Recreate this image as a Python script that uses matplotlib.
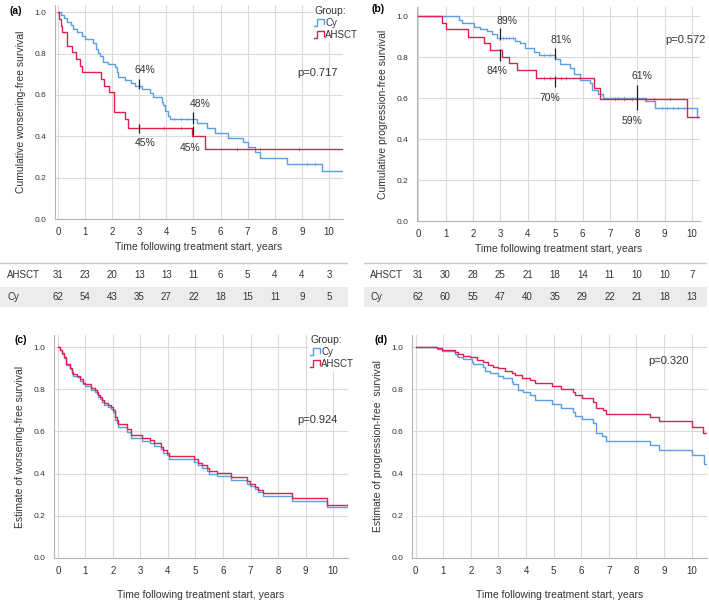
import numpy as np
import matplotlib
matplotlib.use('Agg')
import matplotlib.pyplot as plt
from matplotlib.lines import Line2D
from matplotlib.legend_handler import HandlerBase
from matplotlib.ticker import FormatStrFormatter

plt.rcParams['font.family'] = ['Liberation Sans', 'DejaVu Sans']

BLUE = '#5b9ee8'
RED = '#e0204f'
GRID = '#dadada'
TXT = '#333333'

# ---- (a) worsening-free survival, KM ----
a_cy_t = [0, 0.12, 0.22, 0.34, 0.47, 0.55, 0.71, 0.9, 0.99, 1.29, 1.42, 1.48, 1.54, 1.66, 1.85,
          2.09, 2.16, 2.22, 2.46, 2.71, 2.83, 3.09, 3.39, 3.52, 3.83, 3.89, 3.95, 4.07, 4.13,
          5.12, 5.49, 5.79, 6.29, 6.84, 7.02, 7.27, 7.45, 8.44, 9.73]
a_cy_s = [1.0, 0.987, 0.971, 0.952, 0.936, 0.919, 0.903, 0.887, 0.871, 0.85, 0.821, 0.802, 0.786, 0.76, 0.75,
          0.737, 0.713, 0.686, 0.673, 0.657, 0.644, 0.63, 0.609, 0.592, 0.568, 0.552, 0.52, 0.496, 0.485,
          0.464, 0.44, 0.418, 0.394, 0.37, 0.348, 0.322, 0.295, 0.267, 0.23]
a_ah_t = [0, 0.05, 0.1, 0.15, 0.32, 0.53, 0.65, 0.8, 0.9, 1.6, 1.7, 1.9, 2.05, 2.46, 2.59, 4.93, 5.42]
a_ah_s = [1.0, 0.968, 0.935, 0.903, 0.839, 0.806, 0.774, 0.742, 0.71, 0.677, 0.645, 0.613, 0.516, 0.484, 0.44, 0.40, 0.34]
a_cy_cens = [4.3, 4.55, 4.75, 9.2, 9.5]
a_ah_cens = [3.9, 4.55, 6.6, 7.45, 8.9]
a_marks = [(3, 0.628, 0.678), (3, 0.415, 0.46), (5, 0.46, 0.517), (5, 0.404, 0.448)]
a_labels = [(2.83, 0.72, '64%', 'left'), (2.83, 0.367, '45%', 'left'),
            (4.86, 0.557, '48%', 'left'), (4.86, 0.343, '45%', 'center')]

# ---- (b) progression-free survival, KM ----
b_cy_t = [0, 1.47, 1.59, 2.02, 2.26, 2.51, 2.69, 2.87, 3.54, 3.72, 3.91, 4.21, 4.39, 5.0, 5.18,
          5.55, 5.67, 5.91, 6.28, 6.34, 6.58, 6.76, 8.28, 8.65, 10.17]
b_cy_s = [1.0, 0.98, 0.964, 0.948, 0.937, 0.928, 0.912, 0.891, 0.88, 0.867, 0.842, 0.826, 0.81, 0.79, 0.765,
          0.745, 0.716, 0.688, 0.675, 0.639, 0.618, 0.602, 0.585, 0.55, 0.509]
b_ah_t = [0, 0.88, 1.0, 1.83, 2.41, 2.62, 3.05, 3.32, 3.6, 4.3, 6.43, 6.64, 9.8]
b_ah_s = [1.0, 0.967, 0.935, 0.90, 0.867, 0.834, 0.80, 0.769, 0.737, 0.70, 0.65, 0.595, 0.509]
b_cy_cens = [3.1, 3.2, 3.3, 3.45, 4.6, 4.8, 7.3, 7.5, 8.9, 9.1, 9.3, 9.5, 9.7]
b_ah_cens = [4.6, 4.8, 5.2, 5.4, 7.2, 7.5, 7.8, 8.3, 8.6, 9.2]
b_marks = [(3, 0.883, 0.94), (3, 0.78, 0.837), (5, 0.79, 0.845), (5, 0.652, 0.707), (8, 0.54, 0.663)]
b_labels = [(2.87, 0.977, '89%', 'left'), (2.87, 0.73, '84%', 'center'), (4.82, 0.883, '81%', 'left'),
            (4.82, 0.60, '70%', 'center'), (7.8, 0.707, '61%', 'left'), (7.8, 0.49, '59%', 'center')]

# ---- (c) estimated worsening-free survival ----
c_t = [0, 0.07, 0.13, 0.23, 0.29, 0.44, 0.5, 0.56, 0.68, 0.8, 0.92, 0.98, 1.2, 1.35, 1.41, 1.47,
       1.53, 1.59, 1.68, 1.81, 1.93, 2.01, 2.07, 2.13, 2.19, 2.5, 2.65, 3.07, 3.35, 3.5, 3.75, 3.83,
       3.95, 4.05, 4.95, 5.1, 5.25, 5.41, 5.5, 5.77, 6.28, 6.86, 6.98, 7.16, 7.28, 7.44, 8.5, 9.77]
c_ah_s = [1.0, 0.986, 0.97, 0.951, 0.919, 0.899, 0.88, 0.871, 0.864, 0.847, 0.831, 0.825, 0.804, 0.796, 0.788, 0.773,
          0.765, 0.749, 0.736, 0.725, 0.717, 0.701, 0.667, 0.654, 0.635, 0.61, 0.583, 0.567, 0.559, 0.543, 0.527, 0.512,
          0.499, 0.483, 0.468, 0.452, 0.44, 0.425, 0.412, 0.401, 0.382, 0.365, 0.351, 0.338, 0.322, 0.306, 0.283, 0.251]
c_cy_s = [1.0, 0.985, 0.968, 0.948, 0.915, 0.894, 0.874, 0.865, 0.857, 0.840, 0.823, 0.817, 0.795, 0.787, 0.779, 0.764,
          0.755, 0.739, 0.726, 0.714, 0.706, 0.690, 0.655, 0.642, 0.623, 0.598, 0.571, 0.555, 0.547, 0.531, 0.515, 0.500,
          0.487, 0.471, 0.456, 0.440, 0.428, 0.413, 0.400, 0.389, 0.370, 0.353, 0.339, 0.326, 0.311, 0.295, 0.272, 0.240]

# ---- (d) estimated progression-free survival ----
d_cy_t = [0, 0.76, 0.94, 1.42, 1.49, 1.55, 1.73, 2.03, 2.09, 2.45, 2.51, 2.69, 3.0, 3.18, 3.48, 3.54,
          3.72, 3.9, 4.14, 4.32, 4.95, 5.25, 5.7, 5.77, 6.01, 6.43, 6.52, 6.76, 6.88, 8.49, 8.81, 10.02, 10.46]
d_cy_s = [1.0, 0.991, 0.98, 0.967, 0.959, 0.951, 0.942, 0.931, 0.92, 0.907, 0.888, 0.875, 0.863, 0.852, 0.836, 0.825,
          0.796, 0.785, 0.773, 0.747, 0.729, 0.712, 0.694, 0.675, 0.658, 0.64, 0.592, 0.58, 0.555, 0.536, 0.513, 0.486, 0.447]
d_ah_t = [0, 0.76, 0.94, 1.42, 1.55, 1.73, 1.97, 2.21, 2.45, 2.63, 2.81, 3.0, 3.24, 3.48, 3.6, 3.84,
          4.14, 4.32, 4.95, 5.25, 5.71, 5.77, 6.01, 6.43, 6.55, 6.8, 6.88, 8.49, 8.81, 10.02, 10.42]
d_ah_s = [1.0, 0.994, 0.986, 0.978, 0.967, 0.959, 0.951, 0.938, 0.927, 0.915, 0.907, 0.899, 0.888, 0.875, 0.867, 0.852,
          0.844, 0.828, 0.813, 0.80, 0.789, 0.773, 0.76, 0.741, 0.713, 0.70, 0.683, 0.667, 0.65, 0.623, 0.592]

# ---- numbers at risk ----
risk_years = list(range(11))
a_risk_ahsct = [31, 23, 20, 13, 13, 11, 6, 5, 4, 4, 3]
a_risk_cy = [62, 54, 43, 35, 27, 22, 18, 15, 11, 9, 5]
b_risk_ahsct = [31, 30, 28, 25, 21, 18, 14, 11, 10, 10, 7]
b_risk_cy = [62, 60, 55, 47, 40, 35, 29, 22, 21, 18, 13]

p_values = ['p=0.717', 'p=0.572', 'p=0.924', 'p=0.320']
xlabel = 'Time following treatment start, years'


class StepHandler(HandlerBase):
    def create_artists(self, legend, orig_handle, xdescent, ydescent, width, height, fontsize, trans):
        xs = np.array([0, 0.3, 0.3, 1, 1]) * width - xdescent
        ys = np.array([0.05, 0.05, 0.95, 0.95, 0.3]) * height - ydescent
        return [Line2D(xs, ys, color=orig_handle.get_color(), lw=orig_handle.get_linewidth(), transform=trans)]


def step(ax, t, s, end, color, cens=None):
    tt = list(t) + [end]
    ss = list(s) + [s[-1]]
    line, = ax.step(tt, ss, where='post', color=color, lw=1.0)
    if cens:
        idx = np.searchsorted(t, cens, side='right') - 1
        ax.plot(cens, np.array(s)[idx], ls='none', marker='|', ms=3, mew=0.6, color=color, alpha=0.6)
    return line


def style(ax, xlim, ylim, ylabel, xlabelpad):
    ax.set_xlim(*xlim)
    ax.set_ylim(*ylim)
    ax.set_xticks(range(11))
    ax.set_yticks(np.arange(0, 1.01, 0.2))
    ax.yaxis.set_major_formatter(FormatStrFormatter('%.1f'))
    ax.grid(True, color=GRID, lw=0.8)
    ax.set_axisbelow(True)
    for sp in ['top', 'right']:
        ax.spines[sp].set_visible(False)
    for sp in ['left', 'bottom']:
        ax.spines[sp].set_color('#b5b5b5')
        ax.spines[sp].set_linewidth(0.8)
    ax.tick_params(axis='both', length=0, colors=TXT)
    ax.tick_params(axis='y', labelsize=6, pad=6)
    ax.tick_params(axis='x', labelsize=7, pad=6)
    ax.set_ylabel(ylabel, fontsize=7.5, color=TXT, labelpad=6)
    ax.set_xlabel(xlabel, fontsize=7.5, color=TXT, labelpad=xlabelpad)


def legend(ax, h_cy, h_ah, anchor):
    lg = ax.legend([h_cy, h_ah], ['Cy', 'AHSCT'], title='Group:', loc='upper right',
                   bbox_to_anchor=anchor, bbox_transform=fig.transFigure,
                   handler_map={Line2D: StepHandler()}, fontsize=7, title_fontsize=7.5,
                   handlelength=1.0, handleheight=0.9, handletextpad=0.1, labelspacing=0.2,
                   borderpad=0.2, alignment='left', frameon=True, edgecolor='none',
                   facecolor='white', framealpha=1.0, borderaxespad=0)
    lg.get_title().set_color(TXT)
    for t in lg.get_texts():
        t.set_color(TXT)


def risk_table(rect, xlim, lab_x, ahsct, cy):
    tb = fig.add_axes(rect)
    tb.set_xlim(*xlim)
    tb.set_ylim(308, 258)
    tb.axis('off')
    tb.axhspan(287, 307, color='#ececec', lw=0)
    tb.axhline(263, color='#c8c8c8', lw=1.0)
    tb.text(lab_x, 275, 'AHSCT', fontsize=7, color=TXT, va='center')
    tb.text(lab_x, 297, 'Cy', fontsize=7, color=TXT, va='center')
    for x, n1, n2 in zip(risk_years, ahsct, cy):
        tb.text(x, 275, str(n1), fontsize=7, color=TXT, ha='center', va='center')
        tb.text(x, 297, str(n2), fontsize=7, color=TXT, ha='center', va='center')


fig = plt.figure(figsize=(7.09, 6.0), dpi=100)
W, H = 709, 600

# (a)
ax = fig.add_axes([55 / W, 1 - 219 / H, 288 / W, 214 / H])
h_cy = step(ax, a_cy_t, a_cy_s, 10.52, BLUE, a_cy_cens)
h_ah = step(ax, a_ah_t, a_ah_s, 10.52, RED, a_ah_cens)
for x, y0, y1 in a_marks:
    ax.vlines(x, y0, y1, color='#222222', lw=0.9, zorder=5)
for x, y, s, ha in a_labels:
    ax.text(x, y, s, fontsize=7.5, color=TXT, ha=ha, va='center')
ax.text(10.32, 0.705, p_values[0], fontsize=8, color=TXT, ha='right', va='center')
style(ax, (-0.11, 10.52), (0, 1.035), 'Cumulative worsening-free survival', 3)
legend(ax, h_cy, h_ah, (360 / W, 1 - 4 / H))
fig.text(10 / W, 1 - 11 / H, '(a)', fontsize=7.5, fontweight='bold', va='center')

# (b)
ax = fig.add_axes([417 / W, 1 - 221 / H, 283 / W, 214 / H])
step(ax, b_cy_t, b_cy_s, 10.3, BLUE, b_cy_cens)
step(ax, b_ah_t, b_ah_s, 10.3, RED, b_ah_cens)
for x, y0, y1 in b_marks:
    ax.vlines(x, y0, y1, color='#222222', lw=0.9, zorder=5)
for x, y, s, ha in b_labels:
    ax.text(x, y, s, fontsize=7.5, color=TXT, ha=ha, va='center')
ax.text(10.5, 0.883, p_values[1], fontsize=8, color=TXT, ha='right', va='center')
style(ax, (-0.05, 10.29), (0, 1.044), 'Cumulative progression-free survival', 3)
fig.text(372 / W, 1 - 9 / H, '(b)', fontsize=7.5, fontweight='bold', va='center')

risk_table([0, 1 - 308 / H, 348 / W, 50 / H], (-2.14, 10.70), -1.88, a_risk_ahsct, a_risk_cy)
risk_table([364 / W, 1 - 308 / H, 343 / W, 50 / H], (-1.97, 10.55), -1.75, b_risk_ahsct, b_risk_cy)

# (c)
ax = fig.add_axes([54 / W, 1 - 558 / H, 294 / W, 223 / H])
h_cy = step(ax, c_t, c_cy_s, 10.545, BLUE)
h_ah = step(ax, c_t, c_ah_s, 10.545, RED)
ax.text(10.18, 0.655, p_values[2], fontsize=8, color=TXT, ha='right', va='center')
style(ax, (-0.145, 10.545), (0, 1.057), 'Estimate of worsening-free survival', 10)
legend(ax, h_cy, h_ah, (356 / W, 1 - 333 / H))
fig.text(15 / W, 1 - 340 / H, '(c)', fontsize=7.5, fontweight='bold', va='center')

# (d)
ax = fig.add_axes([412 / W, 1 - 558 / H, 294.5 / W, 223 / H])
step(ax, d_cy_t, d_cy_s, 10.54, BLUE)
step(ax, d_ah_t, d_ah_s, 10.54, RED)
ax.text(9.9, 0.935, p_values[3], fontsize=8, color=TXT, ha='right', va='center')
style(ax, (-0.134, 10.54), (0, 1.057), 'Estimate of progression-free  survival', 10)
fig.text(375 / W, 1 - 340 / H, '(d)', fontsize=7.5, fontweight='bold', va='center')

fig.savefig('out.png', dpi=100)
